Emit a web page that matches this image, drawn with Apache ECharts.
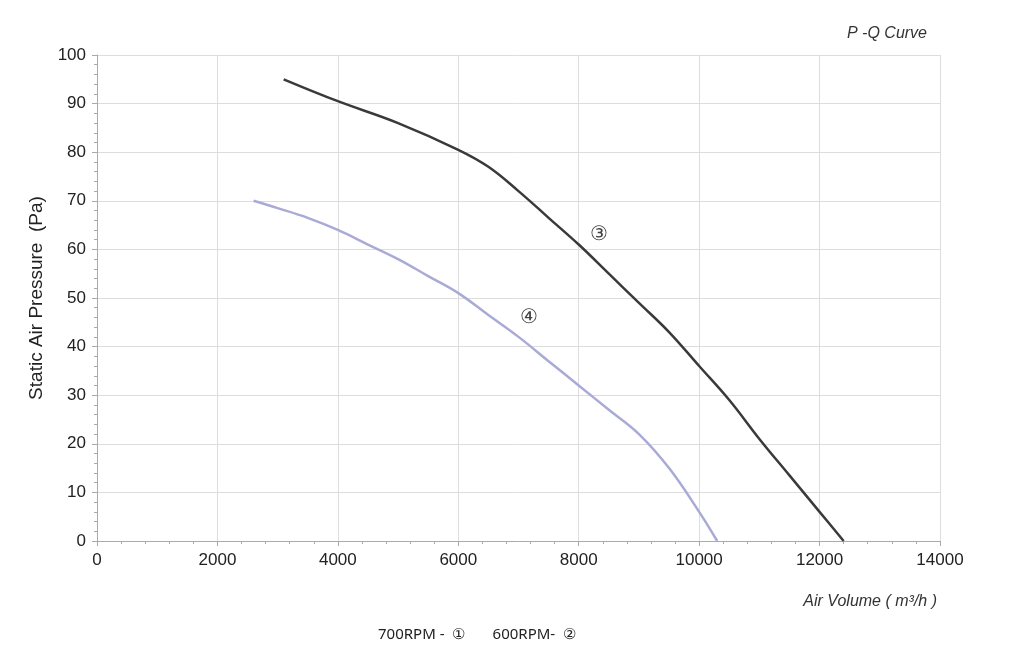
<!DOCTYPE html>
<html><head><meta charset="utf-8">
<script src="https://cdn.jsdelivr.net/npm/echarts@6/dist/echarts.min.js"></script>
<style>html,body{margin:0;padding:0;background:#fff}#c{width:1024px;height:664px}</style>
</head><body><div id="c"></div>
<script>
const curve3 = [[3100,95],[4000,90.5],[5000,86],[6000,80.5],[6500,77],[7000,72],[7500,66.5],[8000,61],[8500,55],[9000,49],[9500,43],[10000,36],[10500,29],[11000,21],[11500,13.5],[12000,6],[12400,0]];
const curve4 = [[2600,70],[3000,68.5],[3500,66.5],[4000,64],[4500,61],[5000,58],[5500,54.5],[6000,51],[6500,46.5],[7000,42],[7500,37],[8000,32],[8500,27],[9000,22],[9500,15],[10000,6],[10300,0]];
const labels = [{name:'③',coord:[8330,63]},{name:'④',coord:[7180,46]}];
const chart = echarts.init(document.getElementById('c'));
const axisCol = '#aaa';
chart.setOption({
  animation:false,
  grid:{left:97,right:84,top:55,bottom:123},
  title:[
    {text:'P -Q Curve',right:92,top:21,textStyle:{fontFamily:'Liberation Sans',fontStyle:'italic',fontWeight:'normal',fontSize:16,color:'#333'}},
    {text:'Air Volume ( m³/h )',right:82,top:589,textStyle:{fontFamily:'Liberation Sans',fontStyle:'italic',fontWeight:'normal',fontSize:16,color:'#333'}},
    {text:'700RPM -  ①       600RPM-  ②',left:373,top:622,textStyle:{fontFamily:'Noto Sans',fontWeight:'normal',fontSize:15,color:'#222'}}
  ],
  xAxis:{type:'value',min:0,max:14000,interval:2000,
    axisLine:{lineStyle:{color:axisCol}},axisTick:{show:true,length:5,lineStyle:{color:axisCol}},
    minorTick:{show:true,splitNumber:5,length:3,lineStyle:{color:axisCol}},
    axisLabel:{color:'#222',fontSize:17,fontFamily:'Liberation Sans',margin:11,formatter:v=>String(v)},
    splitLine:{lineStyle:{color:'#ddd'}}},
  yAxis:{type:'value',min:0,max:100,interval:10,name:'Static Air Pressure  (Pa)',nameLocation:'middle',nameGap:50,
    nameTextStyle:{fontSize:19,color:'#222',fontFamily:'Liberation Sans'},
    axisLine:{show:true,lineStyle:{color:axisCol}},axisTick:{show:true,length:5,lineStyle:{color:axisCol}},
    minorTick:{show:true,splitNumber:5,length:3,lineStyle:{color:axisCol}},
    axisLabel:{color:'#222',fontSize:17,fontFamily:'Liberation Sans',margin:11},
    splitLine:{lineStyle:{color:'#ddd'}}},
  series:[
    {type:'line',data:curve3,smooth:0.4,showSymbol:false,lineStyle:{color:'#3a3a3a',width:2.5},
     markPoint:{symbol:'circle',symbolSize:1,itemStyle:{color:'transparent'},label:{show:true,formatter:'{b}',fontSize:20,color:'#444'},data:[labels[0]]}},
    {type:'line',data:curve4,smooth:0.4,showSymbol:false,lineStyle:{color:'#a9abd6',width:2.5},
     markPoint:{symbol:'circle',symbolSize:1,itemStyle:{color:'transparent'},label:{show:true,formatter:'{b}',fontSize:20,color:'#444'},data:[labels[1]]}}
  ]
});
</script></body></html>
